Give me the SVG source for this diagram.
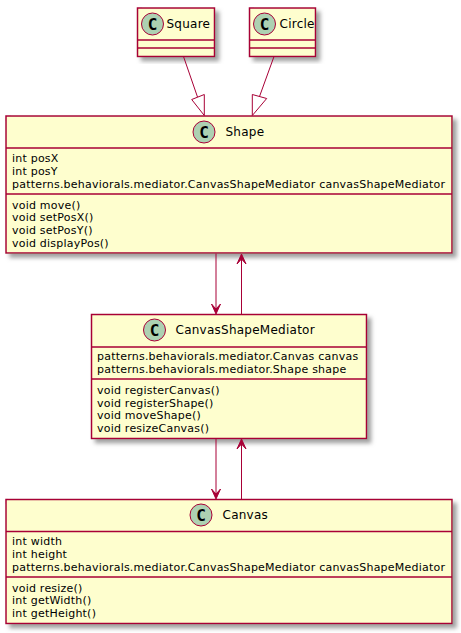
<svg xmlns="http://www.w3.org/2000/svg" width="461" height="633" viewBox="0 0 461 633">
<style>
text{font-family:"DejaVu Sans",sans-serif;fill:#000}
.n{font-size:12px;letter-spacing:.25px}
.m{font-size:11px;letter-spacing:.22px}
.b{fill:#FEFECE;stroke:#A80036;stroke-width:1.5;filter:url(#s)}
.d{stroke:#A80036;stroke-width:1.5;fill:none}
.c{fill:#ADD1B2;stroke:#A80036;stroke-width:1}
.g{font-family:"DejaVu Sans Mono","DejaVu Sans",monospace;font-size:16px;font-weight:bold;text-anchor:middle}
.l{stroke:#A80036;stroke-width:1;fill:none}
.a{fill:#A80036;stroke:#A80036;stroke-width:1}
</style>
<defs>
<filter id="s" x="-10%" y="-10%" width="125%" height="125%">
<feGaussianBlur in="SourceAlpha" stdDeviation="2"/>
<feOffset dx="4" dy="4"/>
<feColorMatrix type="matrix" values="0 0 0 0 0.35 0 0 0 0 0.35 0 0 0 0 0.35 0 0 0 1 0"/>
<feMerge><feMergeNode/><feMergeNode in="SourceGraphic"/></feMerge>
</filter>
</defs>
<g id="Square">
<rect class="b" x="137.500" y="8" width="77" height="48.500"/>
<circle class="c" cx="152.500" cy="24" r="11"/>
<text class="g" x="152.500" y="29.500">C</text>
<text class="n" x="166.500" y="28">Square</text>
<path class="d" d="M137.500 40H214.500M137.500 48H214.500"/>
</g>
<g id="Circle">
<rect class="b" x="249.500" y="8" width="66" height="48.500"/>
<circle class="c" cx="264.500" cy="24" r="11"/>
<text class="g" x="264.500" y="29.500">C</text>
<text class="n" x="279.500" y="28">Circle</text>
<path class="d" d="M249.500 40H315.500M249.500 48H315.500"/>
</g>
<g id="Shape">
<rect class="b" x="6" y="116" width="446" height="137"/>
<circle class="c" cx="204" cy="132" r="11"/>
<text class="g" x="204" y="137.500">C</text>
<text class="n" x="225.500" y="136">Shape</text>
<path class="d" d="M6 148H452M6 194H452"/>
<text class="m" x="12" y="162">int posX</text>
<text class="m" x="12" y="175">int posY</text>
<text class="m" x="12" y="188">patterns.behaviorals.mediator.CanvasShapeMediator canvasShapeMediator</text>
<text class="m" x="12" y="209">void move()</text>
<text class="m" x="12" y="221">void setPosX()</text>
<text class="m" x="12" y="234">void setPosY()</text>
<text class="m" x="12" y="247">void displayPos()</text>
</g>
<g id="CanvasShapeMediator">
<rect class="b" x="91.500" y="314.500" width="275" height="124"/>
<circle class="c" cx="154.500" cy="330" r="11"/>
<text class="g" x="154.500" y="335.500">C</text>
<text class="n" x="175.500" y="334">CanvasShapeMediator</text>
<path class="d" d="M91.500 347H366.500M91.500 379H366.500"/>
<text class="m" x="97" y="360">patterns.behaviorals.mediator.Canvas canvas</text>
<text class="m" x="97" y="373">patterns.behaviorals.mediator.Shape shape</text>
<text class="m" x="97" y="394">void registerCanvas()</text>
<text class="m" x="97" y="407">void registerShape()</text>
<text class="m" x="97" y="419">void moveShape()</text>
<text class="m" x="97" y="432">void resizeCanvas()</text>
</g>
<g id="Canvas">
<rect class="b" x="6" y="499.500" width="446" height="124"/>
<circle class="c" cx="201" cy="515" r="11"/>
<text class="g" x="201" y="520.500">C</text>
<text class="n" x="222.500" y="519">Canvas</text>
<path class="d" d="M6 531.500H452M6 577H452"/>
<text class="m" x="12" y="545">int width</text>
<text class="m" x="12" y="558">int height</text>
<text class="m" x="12" y="571">patterns.behaviorals.mediator.CanvasShapeMediator canvasShapeMediator</text>
<text class="m" x="12" y="592">void resize()</text>
<text class="m" x="12" y="604">int getWidth()</text>
<text class="m" x="12" y="617">int getHeight()</text>
</g>
<g id="connectors">
<path class="l" d="M183.500 56.500L197.500 97"/>
<polygon class="l" points="204.300,115.500 191.700,99.500 204.300,94.500"/>
<path class="l" d="M274 56.500L259.500 96.500"/>
<polygon class="l" points="252.300,115.500 252.300,94.500 266.700,98.500"/>
<path class="l" d="M216 253.500L216 309"/>
<polygon class="a" points="216,314 220.500,304 216,309 211.500,304"/>
<path class="l" d="M241.500 314L241.500 259"/>
<polygon class="a" points="241.500,254 237,264 241.500,259 246,264"/>
<path class="l" d="M216 439L216 494"/>
<polygon class="a" points="216,499 220.500,489 216,494 211.500,489"/>
<path class="l" d="M241.500 499L241.500 444"/>
<polygon class="a" points="241.500,439 237,449 241.500,444 246,449"/>
</g>
</svg>
